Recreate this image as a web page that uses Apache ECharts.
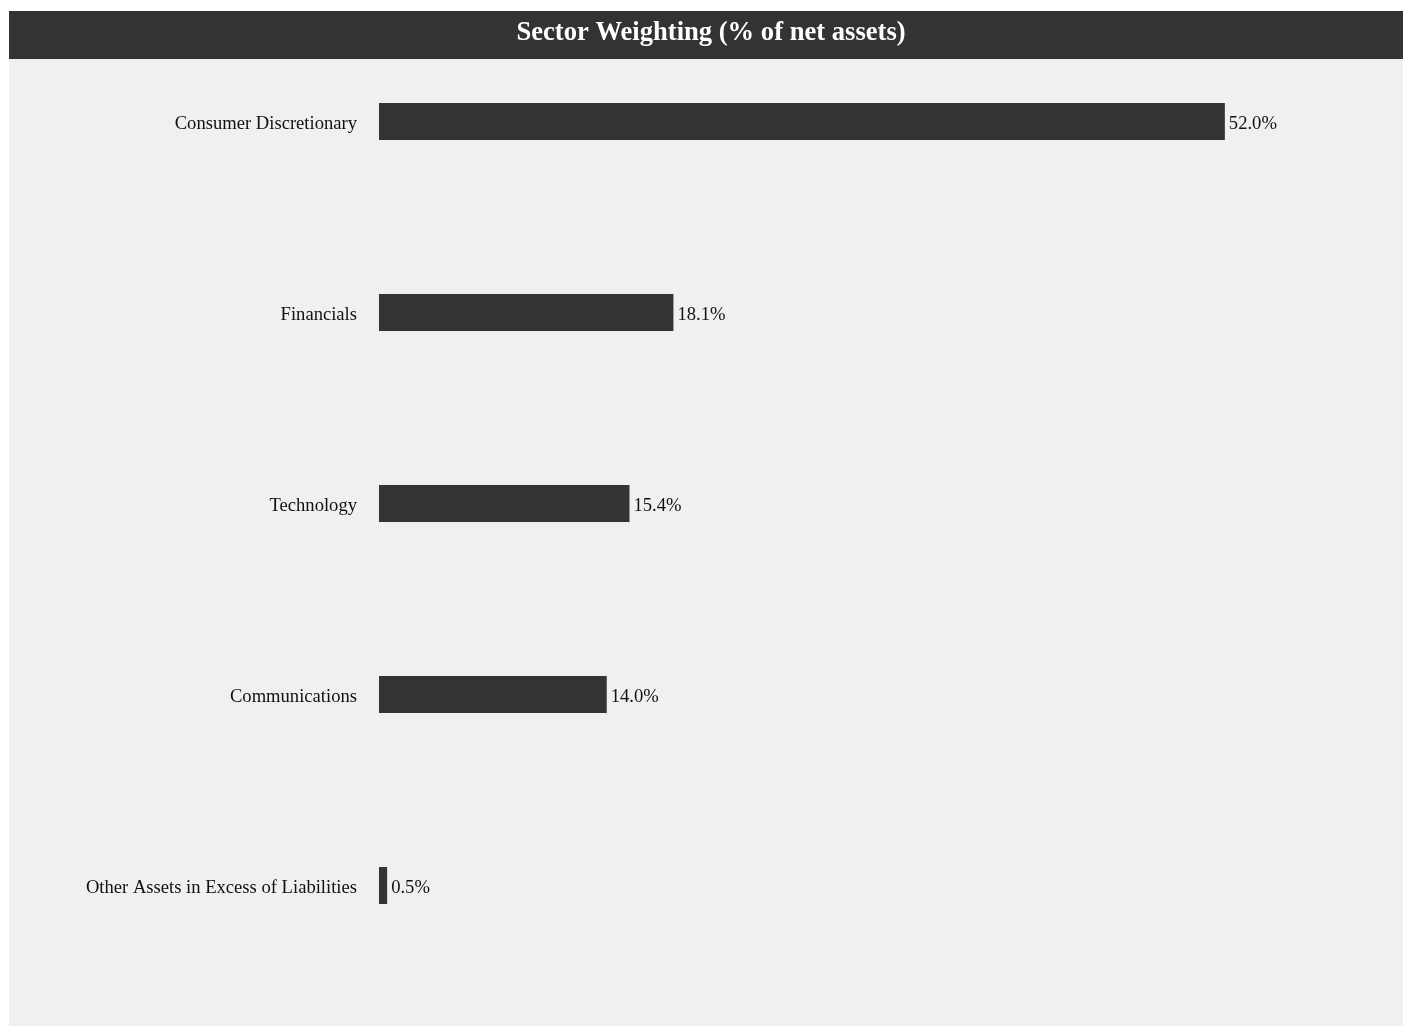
<!DOCTYPE html>
<html>
<head>
<meta charset="utf-8">
<script src="https://cdn.jsdelivr.net/npm/echarts@6/dist/echarts.min.js"></script>
<style>
html,body{margin:0;padding:0;background:#fff;}
#chart{position:absolute;left:9px;top:11px;width:1394px;height:1015px;}
</style>
</head>
<body>
<div id="chart"></div>
<script>
const categories = ["Consumer Discretionary","Financials","Technology","Communications","Other Assets in Excess of Liabilities"];
const values = [52.0, 18.1, 15.4, 14.0, 0.5];
const titleText = "Sector Weighting (% of net assets)";

const chart = echarts.init(document.getElementById('chart'));
const font = "'Liberation Serif', 'Times New Roman', serif";
chart.setOption({
  backgroundColor: '#f0f0f0',
  animation: false,
  graphic: [
    {type:'rect', left:0, top:0, shape:{width:1394, height:48}, style:{fill:'#333333'}, z:0},
    {type:'text', x:702, y:22, z:1, style:{text:titleText, fill:'#ffffff', font:"bold 26.6px 'Liberation Serif', 'Times New Roman', serif", textAlign:'center', textVerticalAlign:'middle'}}
  ],
  grid: {left:370, right:48, top:15, bottom:45, containLabel:false},
  xAxis: {type:'value', min:0, max:60, show:false},
  yAxis: {
    type:'category', data: categories, inverse:true,
    axisLine:{show:false}, axisTick:{show:false}, splitLine:{show:false},
    axisLabel:{margin:22, formatter: v => '{a|' + v + '}',
      rich:{a:{color:'#111', fontFamily: font, fontSize:18.6, padding:[6,0,0,0]}}}
  },
  series: [{
    type:'bar', data: values, barWidth:37,
    itemStyle:{color:'#333333'},
    label:{show:true, position:'right', distance:4, color:'#111', fontFamily:font, fontSize:18.6,
      offset:[0,3],
      formatter: p => p.value.toFixed(1) + '%'}
  }]
});
</script>
</body>
</html>
